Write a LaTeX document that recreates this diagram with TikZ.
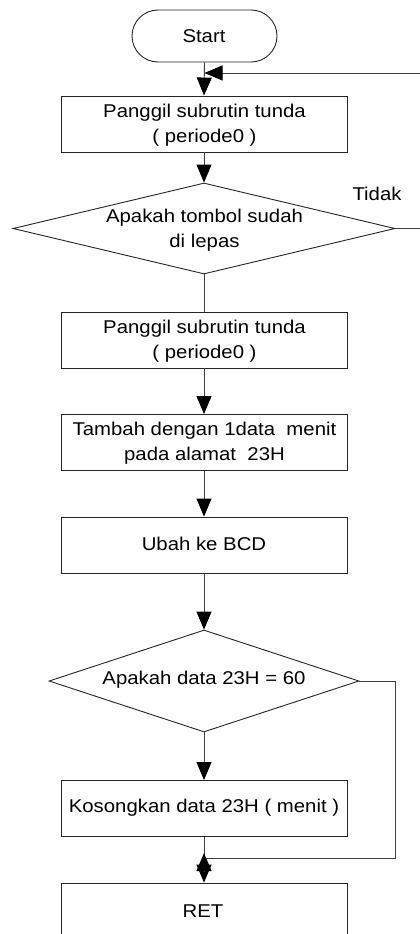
\documentclass[tikz,border=0pt]{standalone}
\usepackage{fontspec}
\setmainfont{Liberation Sans}[FakeStretch=1.1]
\usetikzlibrary{arrows.meta,shapes.geometric}
\begin{document}
\begin{tikzpicture}[x=1pt,y=-1pt,
  shapeline/.style={draw=black!85,line width=0.9pt},
  procbox/.style={shapeline,rectangle,minimum width=286pt,minimum height=56pt,inner sep=0pt},
  decbox/.style={shapeline,diamond,inner sep=0pt},
  termbox/.style={shapeline,rectangle,rounded corners=26pt,minimum width=145pt,minimum height=52pt,inner sep=0pt},
  txt/.style={align=center,font=\fontsize{18.5}{24.5}\selectfont,inner sep=0pt},
  conn/.style={draw=black!75,line width=0.9pt},
  arr/.style={conn,-{Triangle[length=18pt,width=15pt,color=black]}},
]
\useasboundingbox (0,0) rectangle (420,934);
% shapes
\node[termbox] (start) at (204.5,36) {};
\node[txt] (tstart) at (204,36) {Start};
\node[procbox] (b1) at (204,124) {};
\node[txt] (tb1) at (204.5,125) {Panggil subrutin tunda\\( periode0 )};
\node[decbox,minimum width=382pt,minimum height=91pt] (d1) at (204,228.5) {};
\node[txt] (td1) at (204.5,230) {Apakah tombol sudah\\di lepas};
\node[txt] (tidak) at (377,194) {Tidak};
\node[procbox] (b2) at (204,340) {};
\node[txt] (tb2) at (204.5,341) {Panggil subrutin tunda\\( periode0 )};
\node[procbox] (b3) at (204,442.5) {};
\node[txt] (tb3) at (204.5,443) {Tambah dengan 1data\ \ menit\\pada alamat\ \ 23H};
\node[procbox] (b4) at (204,545) {};
\node[txt] (tb4) at (204,544) {Ubah ke BCD};
\node[decbox,minimum width=310pt,minimum height=102pt] (d2) at (204,681) {};
\node[txt] (td2) at (204,680) {Apakah data 23H = 60};
\node[procbox] (b5) at (204,808.5) {};
\node[txt] (tb5) at (204,808) {Kosongkan data 23H ( menit )};
\node[procbox] (ret) at (204,911) {};
\node[txt] (tret) at (203,911) {RET};
% coordinates
\coordinate (fbR) at (421,73);
\coordinate (fb) at (204.5,73);
\coordinate (jR) at (395,858);
\coordinate (j) at (204,858);
\coordinate (ja) at (204,872);
\coordinate (jb) at (204,853);
% connectors
\draw[arr] (start.south) -- (b1.north);
\draw[arr] (b1.south) -- (d1.north);
\draw[conn] (d1.south) -- (b2.north);
\draw[arr] (b2.south) -- (b3.north);
\draw[arr] (b3.south) -- (b4.north);
\draw[arr] (b4.south) -- (d2.north);
\draw[arr] (d2.south) -- (b5.north);
\draw[arr] (b5.south) -- (ret.north);
\draw[arr] (d1.east) -| (fbR) -- (fb);
\draw[conn] (d2.east) -| (jR) -- (j);
\draw[arr] (ja) -- (jb);
\end{tikzpicture}
\end{document}
